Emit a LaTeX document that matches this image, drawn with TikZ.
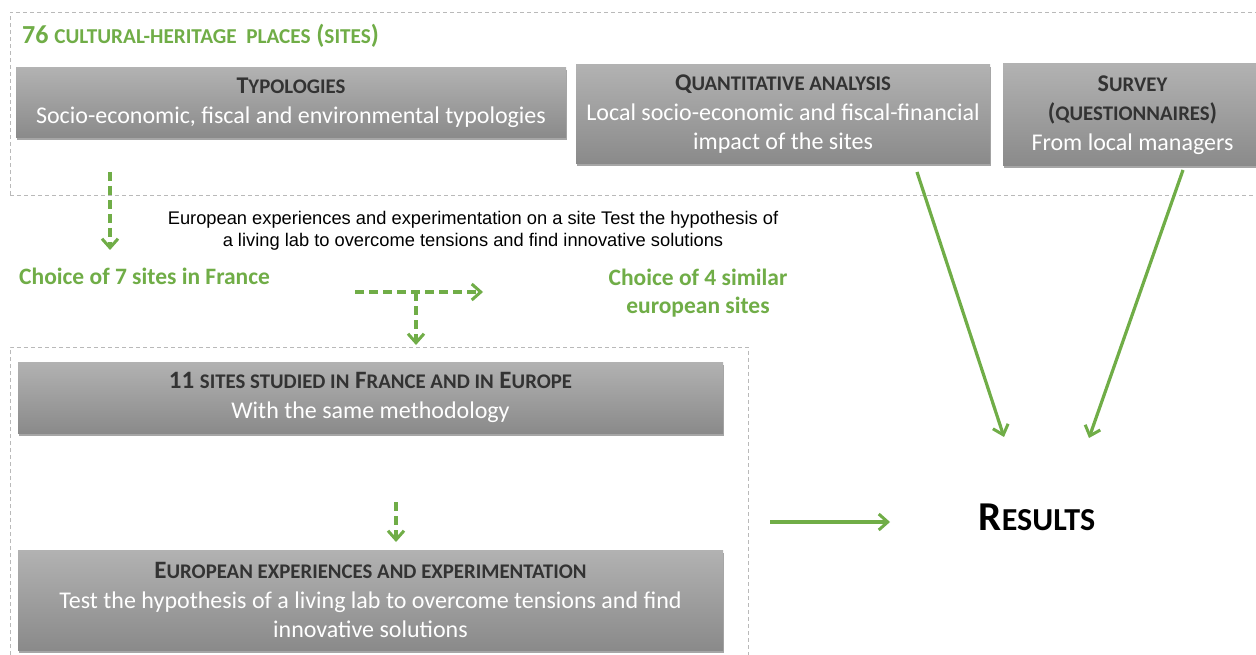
\documentclass[tikz,border=0pt]{standalone}
\usepackage{fontspec}
\setmainfont{Carlito}
\newfontfamily\arialf{Liberation Sans}
\usetikzlibrary{arrows.meta,shadows}
\definecolor{grn}{HTML}{70AD47}
\definecolor{ttl}{HTML}{333333}
\definecolor{boxtop}{HTML}{B2B2B2}
\definecolor{boxbot}{HTML}{8A8A8A}
\newcommand{\sm}[1]{{\fontsize{20.8}{30}\selectfont #1}}
\newcommand{\smt}[1]{{\fontsize{21.2}{24}\selectfont #1}}
\begin{document}
\begin{tikzpicture}[x=1pt,y=-1pt,
  graybox/.style={draw=none, top color=boxtop, bottom color=boxbot,
    drop shadow={shadow xshift=1pt, shadow yshift=-2.5pt, opacity=0.35, fill=black},
    inner sep=0pt, align=center, text=white, font=\fontsize{24}{29.5}\selectfont},
  framebox/.style={draw=gray!55, line width=0.7pt, dash pattern=on 4pt off 3pt},
  tip/.style={-{Straight Barb[length=9pt,width=16pt,line width=3pt]}},
  garrow/.style={draw=grn, line width=3.2pt, tip},
  gdash/.style={garrow, dash pattern=on 9pt off 5pt},
  gtext/.style={text=grn, font=\bfseries\fontsize{23.5}{28}\selectfont, inner sep=0pt, align=center},
  ttext/.style={text=ttl}]
\useasboundingbox (0,0) rectangle (1256,655);
\fill[white] (0,0) rectangle (1256,655);
% frames
\draw[framebox] (10,195) -- (10,12) -- (1262,12);
\draw[framebox] (10,195) -- (1262,195);
\draw[framebox] (10,662) -- (10,347) -- (748,347) -- (748,662);
% title
\node[anchor=west, text=grn, font=\bfseries\fontsize{26}{30}\selectfont, inner sep=0pt] (title) at (22,36)
  {76 \smt{CULTURAL-HERITAGE\ \ PLACES} (\smt{SITES})};
% boxes
\node[graybox, minimum width=550pt, minimum height=70pt] (typ) at (291,103)
  {\textcolor{ttl}{\bfseries T\sm{YPOLOGIES}}\\Socio-economic, fiscal and environmental typologies};
\node[graybox, minimum width=414pt, minimum height=99pt] (quant) at (783,114.5)
  {\textcolor{ttl}{\bfseries Q\sm{UANTITATIVE ANALYSIS}}\\Local socio-economic and fiscal-financial\\impact of the sites};
\node[graybox, minimum width=259pt, minimum height=102pt] (surv) at (1132.5,115)
  {\textcolor{ttl}{\bfseries S\sm{URVEY}}\\\textcolor{ttl}{\bfseries(\sm{QUESTIONNAIRES})}\\From local managers};
\node[graybox, minimum width=705pt, minimum height=71pt] (sites) at (370.5,397.5)
  {\textcolor{ttl}{\bfseries\fontsize{25}{29.5}\selectfont 11 \sm{SITES STUDIED IN} F\sm{RANCE AND IN} E\sm{UROPE}}\\With the same methodology};
\node[graybox, minimum width=705pt, minimum height=100pt] (euro) at (370.5,600)
  {\textcolor{ttl}{\bfseries\fontsize{25}{29.5}\selectfont E\sm{UROPEAN EXPERIENCES AND EXPERIMENTATION}}\\Test the hypothesis of a living lab to overcome tensions and find\\innovative solutions};
% texts
\node[font=\arialf\fontsize{18.3}{22}\selectfont, align=center, inner sep=0pt] (exp) at (473,231)
  {European experiences and experimentation on a site Test the hypothesis of\\a living lab to overcome tensions and find innovative solutions};
\node[gtext, anchor=west] (fr) at (19,276) {Choice of 7 sites in France};
\node[gtext] (eu) at (698,293) {Choice of 4 similar\\european sites};
\node[font=\bfseries\fontsize{41}{46}\selectfont, inner sep=0pt] (res) at (1037,517)
  {R{\fontsize{32}{36}\selectfont ESULTS}};
% coordinates
\coordinate (a1) at (110,172);
\coordinate (a2) at (110,250);
\coordinate (h1) at (355,292);
\coordinate (h2) at (483,292);
\coordinate (hm) at (416,292);
\coordinate (v2) at (416,345);
\coordinate (d1) at (396,502);
\coordinate (d2) at (396,542);
\coordinate (r1) at (770,522);
\coordinate (r2) at (890,522);
\coordinate (q1) at (917,172);
\coordinate (q2) at (1004,437);
\coordinate (s1) at (1183,170);
\coordinate (s2) at (1089,438);
% arrows
\draw[gdash] (a1) -- (a2);
\draw[gdash] (h1) -- (h2);
\draw[gdash] (hm) -- (v2);
\draw[gdash] (d1) -- (d2);
\draw[garrow] (r1) -- (r2);
\draw[garrow] (q1) -- (q2);
\draw[garrow] (s1) -- (s2);
\end{tikzpicture}
\end{document}
